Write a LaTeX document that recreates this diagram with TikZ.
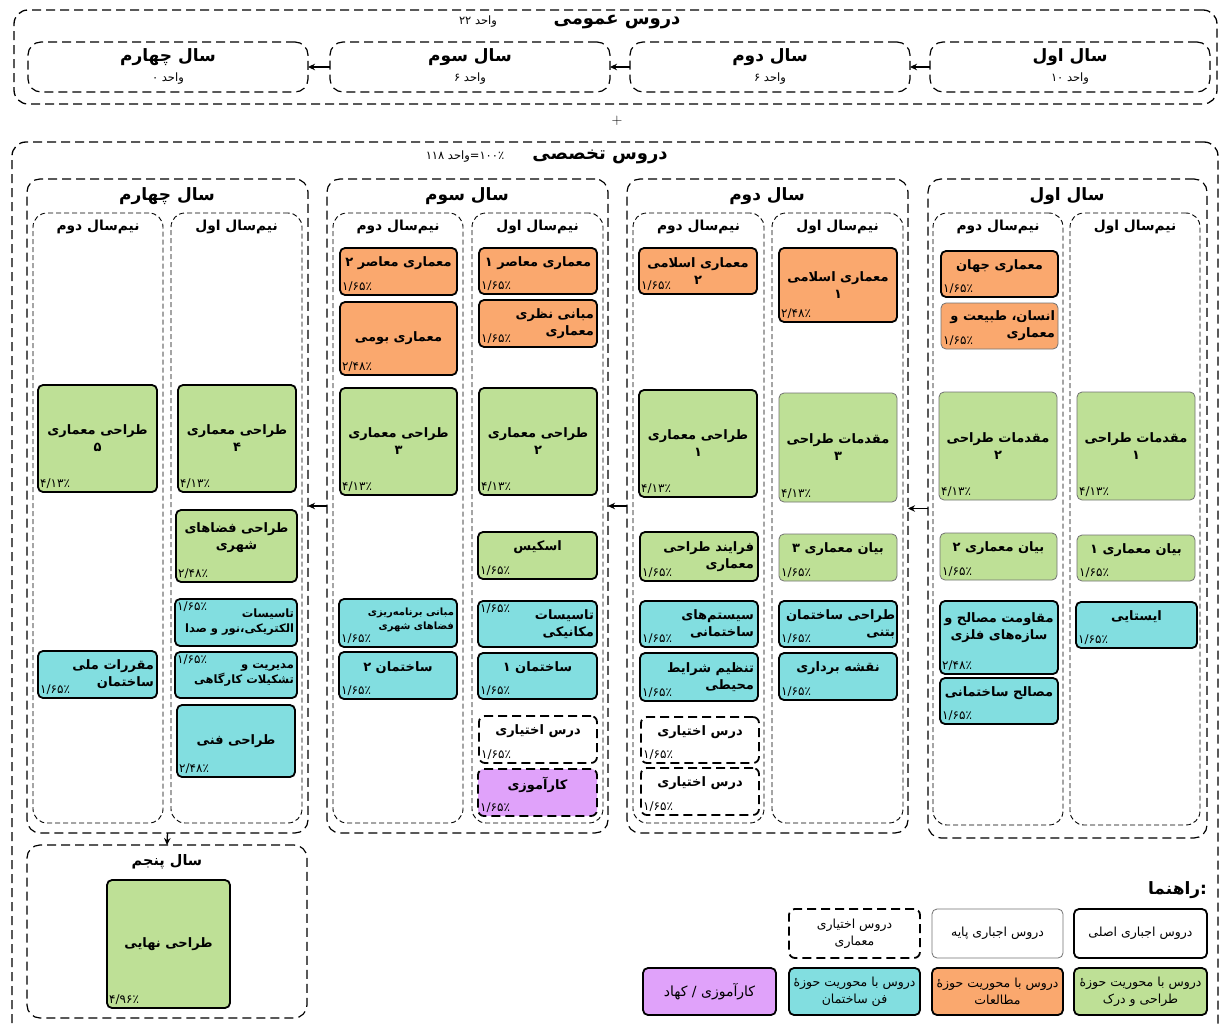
\documentclass[tikz,border=0pt]{standalone}
\usepackage{fontspec}
\usetikzlibrary{arrows.meta,calc}
\newfontfamily\fa[Script=Arabic]{DejaVu Sans}
\TeXXeTstate=1
\newcommand\RL[1]{\beginR #1\endR}
\definecolor{cgreen}{RGB}{190,224,150}
\definecolor{corange}{RGB}{250,168,110}
\definecolor{ccyan}{RGB}{130,222,224}
\definecolor{cpurple}{RGB}{224,162,250}
\newcommand\boxat[6]{\node[#2, minimum width={(#5)-(#3)}, minimum height={(#6)-(#4)}] (#1) at ({((#3)+(#5))/2},{((#4)+(#6))/2}) {};}
\newcommand\crs[9]{\boxat{#1}{#2}{#3}{#4}{#5}{#6}%
 \node[ttl, at={(#1)}, #7] (#1t) {#8};%
 \node[pct, anchor=south west] (#1p) at (#1.south west) {#9};}
\tikzset{
 base/.style={inner sep=0pt, outer sep=0pt},
 outerbox/.style={base, draw, line width=1.3pt, dash pattern=on 9pt off 5pt, rounded corners=14pt},
 yearbox/.style={base, draw, line width=1.2pt, dash pattern=on 9pt off 5pt, rounded corners=13pt},
 sembox/.style={base, draw, line width=0.9pt, dash pattern=on 5pt off 3pt, rounded corners=14pt},
 main/.style={base, draw, line width=1.8pt, rounded corners=5pt},
 basic/.style={base, draw=black!55, line width=0.8pt, rounded corners=5pt},
 optc/.style={base, draw, line width=1.8pt, dash pattern=on 9pt off 5pt, rounded corners=6pt},
 G/.style={fill=cgreen}, O/.style={fill=corange}, C/.style={fill=ccyan}, P/.style={fill=cpurple},
 ttl/.style={base, font=\fa\bfseries\fontsize{13}{17}\selectfont, align=center},
 ttls/.style={base, font=\fa\bfseries\fontsize{11.5}{15}\selectfont, align=right},
 pct/.style={inner xsep=2pt, inner ysep=3pt, font=\fa\fontsize{12}{12}\selectfont},
 h1/.style={base, font=\fa\bfseries\fontsize{18}{20}\selectfont},
 h2/.style={base, font=\fa\bfseries\fontsize{17}{19}\selectfont},
 h3/.style={base, font=\fa\bfseries\fontsize{13.8}{15}\selectfont},
 unit/.style={base, font=\fa\fontsize{11.5}{12}\selectfont},
 leg/.style={base, font=\fa\fontsize{12.5}{17}\selectfont, align=center},
 arr/.style={line width=1.3pt, -{Stealth[length=7pt,width=6.5pt]}},
}
\begin{document}
\begin{tikzpicture}[x=1pt,y=-1pt]
\useasboundingbox (0,0) rectangle (1220,1024);
\clip (0,0) rectangle (1220,1024);
\fill[white] (0,0) rectangle (1220,1024);
% ===== general courses =====
\boxat{gen}{outerbox}{14}{10}{1217}{104}
\node[h1] (genT) at (617,22) {\RL{دروس عمومی}};
\node[unit] (genU) at (478,22) {\mbox{۲۲}\ \mbox{واحد}};
\boxat{gy1}{yearbox}{930}{42}{1210}{92}
\boxat{gy2}{yearbox}{630}{42}{910}{92}
\boxat{gy3}{yearbox}{330}{42}{610}{92}
\boxat{gy4}{yearbox}{28}{42}{308}{92}
\node[h2] (gy1t) at (1070,57) {\RL{سال اول}};
\node[unit] (gy1u) at (1070,79) {\mbox{۱۰}\ \mbox{واحد}};
\node[h2] (gy2t) at (770,57) {\RL{سال دوم}};
\node[unit] (gy2u) at (770,79) {\mbox{۶}\ \mbox{واحد}};
\node[h2] (gy3t) at (470,57) {\RL{سال سوم}};
\node[unit] (gy3u) at (470,79) {\mbox{۶}\ \mbox{واحد}};
\node[h2] (gy4t) at (168,57) {\RL{سال چهارم}};
\node[unit] (gy4u) at (168,79) {\mbox{۰}\ \mbox{واحد}};
\draw[arr] (gy1.west) -- (gy2.east);
\draw[arr] (gy2.west) -- (gy3.east);
\draw[arr] (gy3.west) -- (gy4.east);
\node[base, font=\fontsize{15}{15}\selectfont] (plus) at (617,121) {+};
% ===== specialized =====
\boxat{spec}{outerbox}{12}{142}{1218}{1045}
\node[h1] (specT) at (600,157) {\RL{دروس تخصصی}};
\node[unit] (specU) at (465,157) {\mbox{۱۱۸}\ \mbox{واحد}\mbox{=}\mbox{۱۰۰٪}};
\boxat{y1}{yearbox}{928}{179}{1207}{838}
\boxat{y2}{yearbox}{627}{179}{908}{833}
\boxat{y3}{yearbox}{327}{179}{608}{833}
\boxat{y4}{yearbox}{27}{179}{308}{833}
\boxat{y5}{yearbox}{27}{845}{307}{1018}
\node[h2] (y1t) at (1067,196) {\RL{سال اول}};
\node[h2] (y2t) at (767,196) {\RL{سال دوم}};
\node[h2] (y3t) at (467,196) {\RL{سال سوم}};
\node[h2] (y4t) at (167,196) {\RL{سال چهارم}};
\node[h3, font=\fa\bfseries\fontsize{14.5}{15}\selectfont] (y5t) at (167,862) {\RL{سال پنجم}};
\boxat{y1a}{sembox}{1070}{213}{1200}{825}
\boxat{y1b}{sembox}{933}{213}{1063}{825}
\boxat{y2a}{sembox}{772}{213}{903}{823}
\boxat{y2b}{sembox}{633}{213}{764}{823}
\boxat{y3a}{sembox}{472}{213}{603}{823}
\boxat{y3b}{sembox}{333}{213}{463}{823}
\boxat{y4a}{sembox}{171}{213}{302}{823}
\boxat{y4b}{sembox}{33}{213}{163}{823}
\node[h3] (y1at) at (1135,227) {\RL{نیم‌سال اول}};
\node[h3] (y1bt) at (998,227) {\RL{نیم‌سال دوم}};
\node[h3] (y2at) at (837.5,227) {\RL{نیم‌سال اول}};
\node[h3] (y2bt) at (698.5,227) {\RL{نیم‌سال دوم}};
\node[h3] (y3at) at (537.5,227) {\RL{نیم‌سال اول}};
\node[h3] (y3bt) at (398,227) {\RL{نیم‌سال دوم}};
\node[h3] (y4at) at (236.5,227) {\RL{نیم‌سال اول}};
\node[h3] (y4bt) at (98,227) {\RL{نیم‌سال دوم}};
\draw[arr] (y1.west) -- (y1.west -| y2.east);
\draw[arr] (y2.west) -- (y2.west -| y3.east);
\draw[arr] (y3.west) -- (y3.west -| y4.east);
\draw[arr] (y4.south) -- (y5.north);
% ----- year 1 -----
\crs{a11}{basic,G}{1077}{392}{1195}{500}{}{\RL{مقدمات طراحی}\\\RL{۱}}{۴/۱۳٪}
\crs{a12}{basic,G}{1077}{535}{1195}{581}{yshift=8pt}{\RL{بیان معماری ۱}}{۱/۶۵٪}
\crs{a13}{main,C}{1076}{602}{1197}{648}{yshift=8pt}{\RL{ایستایی}}{۱/۶۵٪}
\crs{a21}{main,O}{941}{251}{1058}{297}{yshift=8pt}{\RL{معماری جهان}}{۱/۶۵٪}
\crs{a22}{basic,O}{941}{303}{1058}{349}{anchor=east, at={(a22.east)}, xshift=-3pt, align=right}{\RL{انسان، طبیعت و}\\\RL{معماری}}{۱/۶۵٪}
\crs{a23}{basic,G}{939}{392}{1057}{500}{}{\RL{مقدمات طراحی}\\\RL{۲}}{۴/۱۳٪}
\crs{a24}{basic,G}{940}{533}{1057}{580}{yshift=8pt}{\RL{بیان معماری ۲}}{۱/۶۵٪}
\crs{a25}{main,C}{940}{601}{1058}{674}{yshift=10pt}{\RL{مقاومت مصالح و}\\\RL{سازه‌های فلزی}}{۲/۴۸٪}
\crs{a26}{main,C}{940}{678}{1058}{724}{yshift=8pt}{\RL{مصالح ساختمانی}}{۱/۶۵٪}
% ----- year 2 -----
\crs{b11}{main,O}{779}{248}{897}{322}{}{\RL{معماری اسلامی}\\\RL{۱}}{۲/۴۸٪}
\crs{b12}{basic,G}{779}{393}{897}{502}{}{\RL{مقدمات طراحی}\\\RL{۳}}{۴/۱۳٪}
\crs{b13}{basic,G}{779}{534}{897}{581}{yshift=8pt}{\RL{بیان معماری ۳}}{۱/۶۵٪}
\crs{b14}{main,C}{779}{601}{897}{647}{anchor=east, at={(b14.east)}, xshift=-2pt, align=right}{\RL{طراحی ساختمان}\\\RL{بتنی}}{۱/۶۵٪}
\crs{b15}{main,C}{779}{653}{897}{700}{yshift=8pt}{\RL{نقشه برداری}}{۱/۶۵٪}
\crs{b21}{main,O}{639}{248}{757}{294}{}{\RL{معماری اسلامی}\\\RL{۲}}{۱/۶۵٪}
\crs{b22}{main,G}{639}{390}{757}{497}{}{\RL{طراحی معماری}\\\RL{۱}}{۴/۱۳٪}
\crs{b23}{main,G}{640}{532}{758}{581}{anchor=east, at={(b23.east)}, xshift=-4pt, align=right}{\RL{فرایند طراحی}\\\RL{معماری}}{۱/۶۵٪}
\crs{b24}{main,C}{640}{601}{758}{647}{anchor=east, at={(b24.east)}, xshift=-4pt, align=right}{\RL{سیستم‌های}\\\RL{ساختمانی}}{۱/۶۵٪}
\crs{b25}{main,C}{640}{653}{758}{701}{anchor=east, at={(b25.east)}, xshift=-4pt, align=right}{\RL{تنظیم شرایط}\\\RL{محیطی}}{۱/۶۵٪}
\crs{b26}{optc}{641}{717}{759}{763}{yshift=8pt}{\RL{درس اختیاری}}{۱/۶۵٪}
\crs{b27}{optc}{641}{768}{759}{815}{yshift=8pt}{\RL{درس اختیاری}}{۱/۶۵٪}
% ----- year 3 -----
\crs{c11}{main,O}{479}{248}{597}{294}{yshift=8pt}{\RL{معماری معاصر ۱}}{۱/۶۵٪}
\crs{c12}{main,O}{479}{300}{597}{347}{anchor=east, at={(c12.east)}, xshift=-3pt, align=right}{\RL{مبانی نظری}\\\RL{معماری}}{۱/۶۵٪}
\crs{c13}{main,G}{479}{388}{597}{495}{}{\RL{طراحی معماری}\\\RL{۲}}{۴/۱۳٪}
\crs{c14}{main,G}{478}{532}{597}{579}{yshift=8pt}{\RL{اسکیس}}{۱/۶۵٪}
\boxat{c15}{main,C}{478}{601}{597}{647}
\node[ttl, anchor=east, align=right] (c15t) at ([xshift=-3pt]c15.east) {\RL{تاسیسات}\\\RL{مکانیکی}};
\node[pct, anchor=north west] (c15p) at (c15.north west) {۱/۶۵٪};
\crs{c16}{main,C}{478}{653}{597}{699}{yshift=8pt}{\RL{ساختمان ۱}}{۱/۶۵٪}
\crs{c17}{optc}{479}{716}{597}{763}{yshift=8pt}{\RL{درس اختیاری}}{۱/۶۵٪}
\crs{c18}{optc,P}{478}{769}{597}{816}{yshift=8pt}{\RL{کارآموزی}}{۱/۶۵٪}
\crs{c21}{main,O}{340}{248}{457}{295}{yshift=8pt}{\RL{معماری معاصر ۲}}{۱/۶۵٪}
\crs{c22}{main,O}{340}{302}{457}{375}{}{\RL{معماری بومی}}{۲/۴۸٪}
\crs{c23}{main,G}{340}{388}{457}{495}{}{\RL{طراحی معماری}\\\RL{۳}}{۴/۱۳٪}
\crs{c24}{main,C}{339}{599}{457}{647}{anchor=east, at={(c24.east)}, xshift=-3pt, yshift=3pt, align=right, font=\fa\bfseries\fontsize{10}{14}\selectfont}{\RL{مبانی برنامه‌ریزی}\\\RL{فضاهای شهری}}{۱/۶۵٪}
\crs{c25}{main,C}{339}{652}{457}{699}{yshift=8pt}{\RL{ساختمان ۲}}{۱/۶۵٪}
% ----- year 4 -----
\crs{d11}{main,G}{178}{385}{296}{492}{}{\RL{طراحی معماری}\\\RL{۴}}{۴/۱۳٪}
\crs{d12}{main,G}{176}{510}{297}{582}{yshift=8pt}{\RL{طراحی فضاهای}\\\RL{شهری}}{۲/۴۸٪}
\boxat{d13}{main,C}{175}{599}{297}{646}
\node[ttls, anchor=east] (d13t) at ([xshift=-3pt]d13.east) {\RL{تاسیسات}\\\RL{الکتریکی،نور و صدا}};
\node[pct, anchor=north west] (d13p) at (d13.north west) {۱/۶۵٪};
\boxat{d14}{main,C}{175}{652}{297}{698}
\node[ttls, anchor=east] (d14t) at ([xshift=-3pt]d14.east) {\RL{مدیریت و}\\\RL{تشکیلات کارگاهی}};
\node[pct, anchor=north west] (d14p) at (d14.north west) {۱/۶۵٪};
\crs{d15}{main,C}{177}{705}{295}{777}{}{\RL{طراحی فنی}}{۲/۴۸٪}
\crs{d21}{main,G}{38}{385}{157}{492}{}{\RL{طراحی معماری}\\\RL{۵}}{۴/۱۳٪}
\crs{d22}{main,C}{38}{651}{157}{698}{anchor=east, at={(d22.east)}, xshift=-3pt, align=right}{\RL{مقررات ملی}\\\RL{ساختمان}}{۱/۶۵٪}
% ----- year 5 -----
\crs{e1}{main,G}{107}{880}{230}{1008}{}{\RL{طراحی نهایی}}{۴/۹۶٪}
% ===== legend =====
\node[h2, anchor=east] (legT) at (1207,890) {\mbox{راهنما}\mbox{:}};
\boxat{l1}{main}{1074}{909}{1207}{958}
\node[leg] (l1t) at (l1) {\RL{دروس اجباری اصلی}};
\boxat{l2}{basic}{932}{909}{1063}{958}
\node[leg] (l2t) at (l2) {\RL{دروس اجباری پایه}};
\boxat{l3}{optc}{789}{909}{920}{958}
\node[leg] (l3t) at (l3) {\RL{دروس اختیاری}\\\RL{معماری}};
\boxat{l4}{main,G}{1074}{968}{1207}{1015}
\node[leg] (l4t) at (l4) {\RL{دروس با محوریت حوزهٔ}\\\RL{طراحی و درک}};
\boxat{l5}{main,O}{932}{968}{1063}{1015}
\node[leg] (l5t) at (l5) {\RL{دروس با محوریت حوزهٔ}\\\RL{مطالعات}};
\boxat{l6}{main,C}{789}{968}{920}{1015}
\node[leg] (l6t) at (l6) {\RL{دروس با محوریت حوزهٔ}\\\RL{فن ساختمان}};
\boxat{l7}{main,P}{643}{968}{776}{1015}
\node[leg, font=\fa\fontsize{14}{17}\selectfont] (l7t) at (l7) {\RL{کارآموزی / کهاد}};
\end{tikzpicture}
\end{document}
